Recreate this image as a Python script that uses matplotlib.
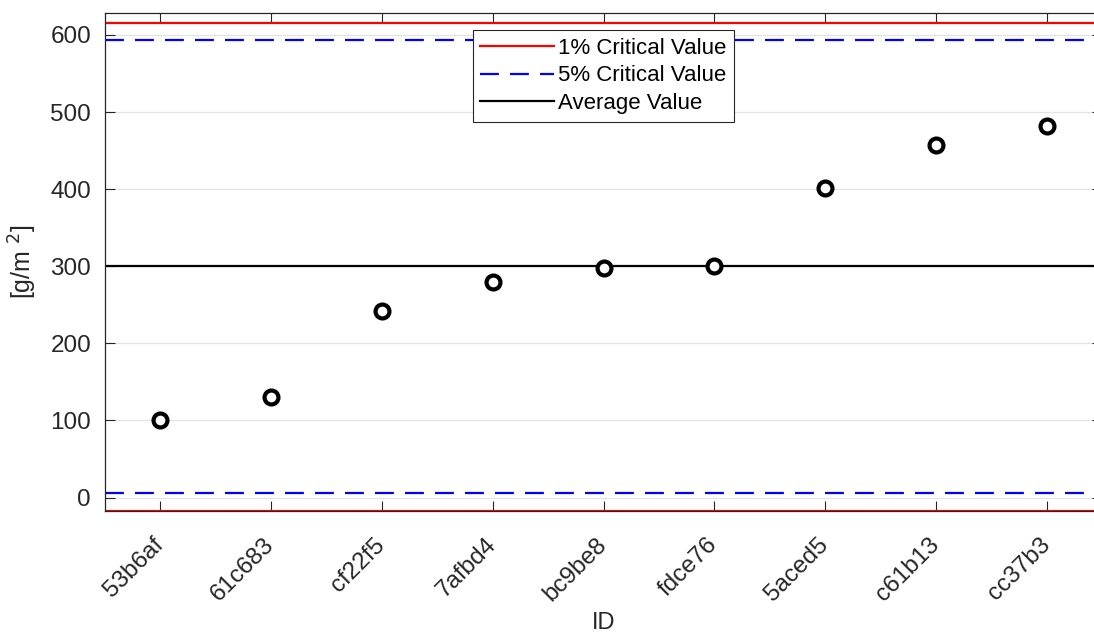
import matplotlib
matplotlib.use("Agg")
import matplotlib.pyplot as plt

# Sample IDs and measured areal density
ids = ["53b6af", "61c683", "cf22f5", "7afbd4", "bc9be8", "fdce76", "5aced5", "c61b13", "cc37b3"]
values = [100, 130, 242, 279, 298, 300.5, 402, 457, 482]

average_value = 300.0
crit_1pct = [615.5, -17.0]
crit_5pct = [593.0, 5.5]

yticks = [0, 100, 200, 300, 400, 500, 600]

plt.rcParams["font.family"] = ["Liberation Sans", "DejaVu Sans"]
text_color = "#262626"

fig = plt.figure(figsize=(10.94, 6.35), dpi=100)
ax = fig.add_axes([105 / 1094, 1 - 511 / 635, (1102 - 105) / 1094, (511 - 13) / 635])

x = list(range(1, len(ids) + 1))
dash = (0, (8.5, 5.0))

ax.axhline(crit_1pct[0], color="#ff0000", lw=1.6, label="1% Critical Value", zorder=2)
ax.axhline(crit_5pct[0], color="#0000ff", lw=1.6, ls=dash, label="5% Critical Value", zorder=2)
ax.axhline(average_value, color="black", lw=1.6, label="Average Value", zorder=2)
ax.axhline(crit_1pct[1], color="#ff0000", lw=1.6, zorder=2)
ax.axhline(crit_5pct[1], color="#0000ff", lw=1.6, ls=dash, zorder=2)

ax.plot(x, values, ls="none", marker="o", ms=10, mew=3.0, mfc="white",
        mec="black", zorder=3)

ax.set_xlim(0.5, len(ids) + 0.5)
ax.set_ylim(-17.5, 628.5)
ax.set_xticks(x)
ax.set_xticklabels(ids, rotation=45, ha="right", va="center", rotation_mode="anchor")
ax.set_yticks(yticks)

ax.grid(axis="y", color="#e3e3e3", lw=0.9, zorder=0)
ax.set_axisbelow(True)

ax.tick_params(axis="both", direction="in", length=7, width=0.8, colors=text_color,
               labelsize=17.5, top=True, right=True)
ax.tick_params(axis="y", pad=10)
ax.tick_params(axis="x", pad=22)
for s in ax.spines.values():
    s.set_color(text_color)
    s.set_linewidth(0.9)

ax.set_xlabel("ID", fontsize=17, color=text_color, labelpad=4.5)
ax.set_ylabel(r"[g/m $^{2}$]", fontsize=18, color=text_color, labelpad=8)

leg = ax.legend(loc="upper center", bbox_to_anchor=(0.5, 1 - 17 / 498), fontsize=16,
                handlelength=3.3, handletextpad=0.2, borderpad=0.35, labelspacing=0.3,
                borderaxespad=0, fancybox=False, framealpha=1, edgecolor=text_color)
leg.get_frame().set_linewidth(0.8)

fig.savefig("out.png", dpi=100)
